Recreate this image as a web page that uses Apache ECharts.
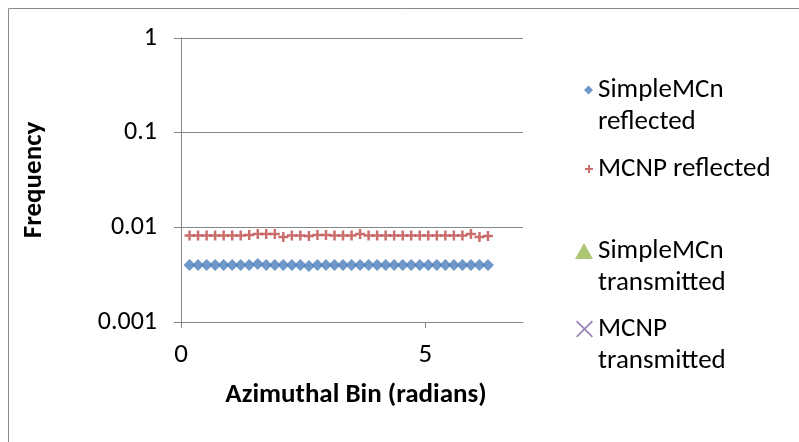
<!DOCTYPE html>
<html><head><meta charset="utf-8">
<script src="https://cdn.jsdelivr.net/npm/echarts@6/dist/echarts.min.js"></script>
<style>html,body{margin:0;padding:0;background:#fff}#c{width:799px;height:442px}</style>
</head><body><div id="c"></div>
<script>
const binX = [0.175,0.349,0.524,0.698,0.873,1.047,1.222,1.396,1.571,1.745,1.920,2.094,2.269,2.443,2.618,2.793,2.967,3.142,3.316,3.491,3.665,3.840,4.014,4.189,4.363,4.538,4.712,4.887,5.061,5.236,5.411,5.585,5.760,5.934,6.109,6.283];
const simpleReflected = [0.0040,0.0040,0.0040,0.0040,0.0040,0.0040,0.0040,0.0040,0.0041,0.0040,0.0040,0.0040,0.0040,0.0040,0.0039,0.0040,0.0040,0.0040,0.0040,0.0040,0.0040,0.0040,0.0040,0.0040,0.0040,0.0040,0.0040,0.0040,0.0040,0.0040,0.0040,0.0040,0.0040,0.0040,0.0040,0.0040];
const mcnpReflected = [0.0082,0.0082,0.0082,0.0082,0.0082,0.0082,0.0082,0.0083,0.0085,0.0085,0.0085,0.0079,0.0082,0.0082,0.0081,0.0083,0.0083,0.0082,0.0082,0.0082,0.0085,0.0082,0.0082,0.0082,0.0082,0.0082,0.0082,0.0082,0.0082,0.0082,0.0082,0.0082,0.0082,0.0085,0.0079,0.0081];
const simpleTransmitted = [];
const mcnpTransmitted = [];
const yTicks = ['0.001','0.01','0.1','1'];
const xTicks = [0,5];
const seriesNames = ['SimpleMCn\nreflected','MCNP reflected','SimpleMCn\ntransmitted','MCNP\ntransmitted'];

const FONT = 'Carlito, Lato, "Liberation Sans", sans-serif';
const FS = 27;
const LH = 32;
const PLUS = 'path://M3,0H5V3H8V5H5V8H3V5H0V3H3Z';
const CROSS = 'path://M1,0L8,7L7,8L0,1Z M7,0L8,1L1,8L0,7Z';
const colors = ['#4a7ebb','#be4b48','#98b954','#7d60a0'];
const symbols = ['diamond', PLUS, 'triangle', CROSS];

// legend icons: symbol drawn at the top of a taller box so it lines up with the first text line
const legendIcons = [
  'path://M4.5,0L9,4.5L4.5,9L0,4.5Z M0,41L0,41Z',
  PLUS,
  'path://M9,0L18,16L0,16Z M0,48L0,48Z',
  'path://M1.2,0L17,15.8L15.8,17L0,1.2Z M15.8,0L17,1.2L1.2,17L0,15.8Z M0,49L0,49Z'
];
const legendIconSize = [[9,41],[8,8],[18,48],[17,49]];
const legendTops = [74, 153, 235, 313];

function pairs(ys){ return ys.map((y,i)=>[binX[i], y]); }
const seriesData = [simpleReflected, mcnpReflected, simpleTransmitted, mcnpTransmitted];
const symSize = [12, 10, 11, 11];

const chart = echarts.init(document.getElementById('c'), null, {renderer:'canvas'});
chart.setOption({
  animation:false,
  backgroundColor:'#fff',
  graphic:[{type:'rect', shape:{x:8.5,y:8.5,width:900,height:600}, style:{fill:'none', stroke:'#8a8a8a', lineWidth:1}, z:-1}],
  grid:{left:181, top:38, right:276, bottom:120, containLabel:false},
  legend: seriesNames.map((n,i)=>({
    data:[n], icon:legendIcons[i], left:598 - 5 - legendIconSize[i][0], top:legendTops[i], orient:'vertical', padding:0,
    itemWidth:legendIconSize[i][0], itemHeight:legendIconSize[i][1], itemGap:0,
    selectedMode:false,
    textStyle:{fontFamily:FONT, fontSize:FS, color:'#000', lineHeight:LH}
  })),
  xAxis:{
    type:'value', min:0, max:7, interval:5,
    axisLine:{show:true, lineStyle:{color:'#868686', width:1}},
    axisTick:{show:true, inside:false, length:6, lineStyle:{color:'#868686'}, customValues:xTicks},
    axisLabel:{fontFamily:FONT, fontSize:FS, color:'#000', margin:20, customValues:xTicks},
    splitLine:{show:false},
    name:'Azimuthal Bin (radians)', nameLocation:'middle', nameGap:60,
    nameTextStyle:{fontFamily:FONT, fontSize:FS, fontWeight:'bold', color:'#000', padding:[0,0,0,8]}
  },
  yAxis:{
    type:'log', logBase:10, min:0.001, max:1,
    axisLine:{show:true, lineStyle:{color:'#868686', width:1}},
    axisTick:{show:true, inside:false, length:7, lineStyle:{color:'#868686'}},
    axisLabel:{fontFamily:FONT, fontSize:26, color:'#000', margin:24,
      formatter:function(v){ const e=Math.round(Math.log10(v)); return yTicks[e+3]; }},
    splitLine:{show:true, lineStyle:{color:'#868686', width:1}},
    minorTick:{show:false},
    name:'Frequency', nameLocation:'middle', nameGap:133,
    nameTextStyle:{fontFamily:FONT, fontSize:FS, fontWeight:'bold', color:'#000'}
  },
  series: seriesNames.map((n,i)=>({
    name:n, type:'scatter', symbol:symbols[i], symbolSize:symSize[i],
    itemStyle:{color:colors[i]}, data:pairs(seriesData[i])
  }))
});
</script></body></html>
